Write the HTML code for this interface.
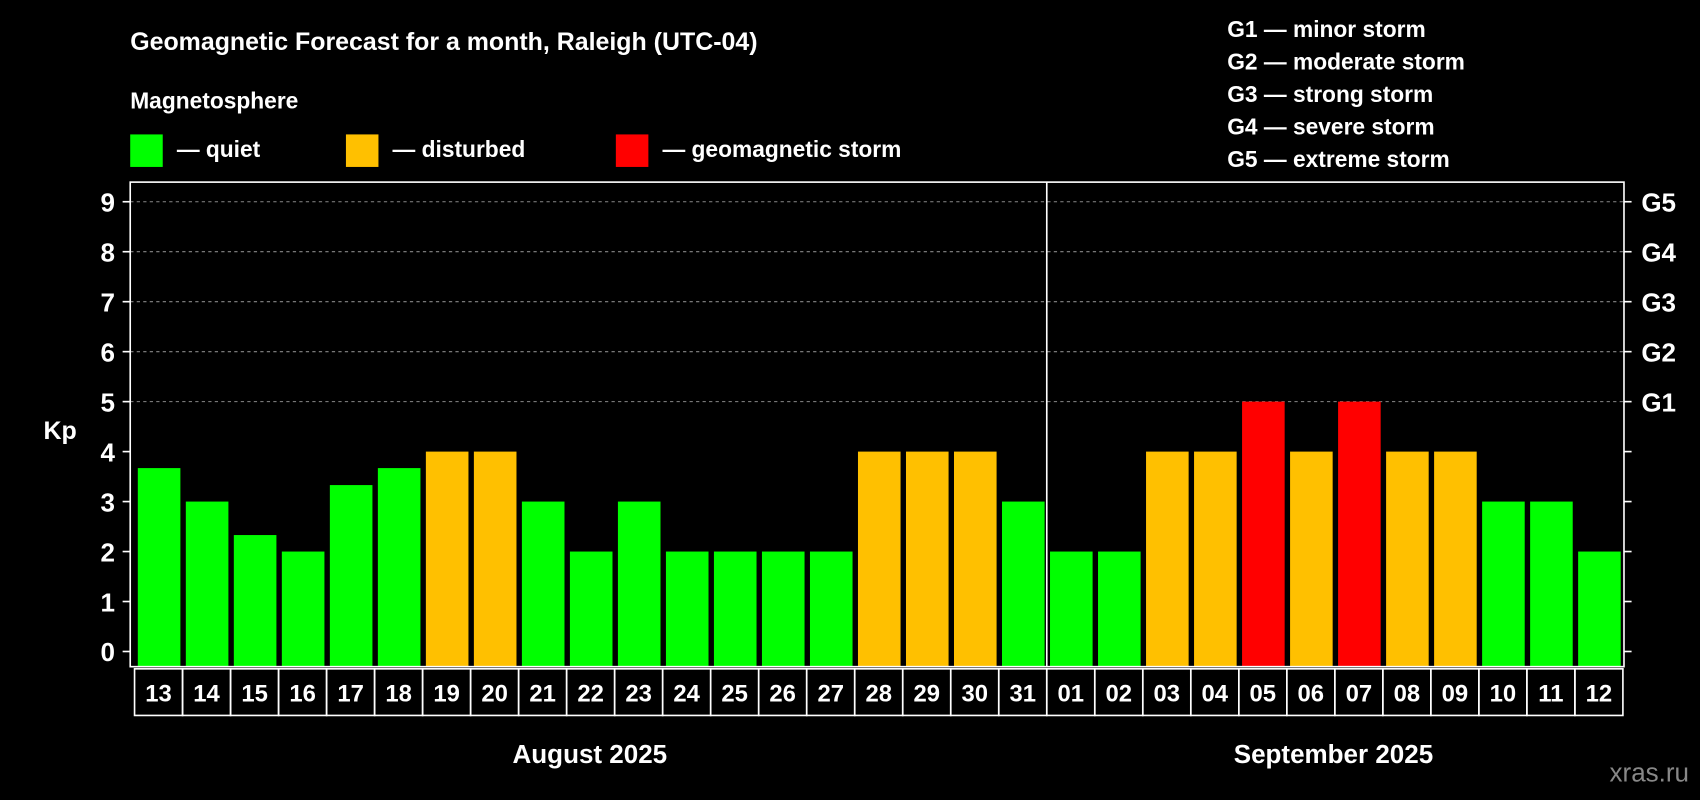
<!DOCTYPE html>
<html><head><meta charset="utf-8"><style>
html,body{margin:0;padding:0;background:#000;}
svg{display:block;font-family:"Liberation Sans",sans-serif;font-weight:bold;}
</style></head><body>
<svg id="chart" width="1700" height="800" viewBox="0 0 1568 738" xmlns="http://www.w3.org/2000/svg">
<rect x="0" y="0" width="1568" height="738" fill="#000"/>
<text x="120" y="46" fill="#fff" font-size="23">Geomagnetic Forecast for a month, Raleigh (UTC-04)</text>
<text x="120" y="100" fill="#fff" font-size="21">Magnetosphere</text>
<g><rect x="120" y="124" width="30" height="30" fill="#00ff00"/><text x="163" y="145" fill="#fff" font-size="21">— quiet</text></g>
<g><rect x="319" y="124" width="30" height="30" fill="#ffc000"/><text x="362" y="145" fill="#fff" font-size="21">— disturbed</text></g>
<g><rect x="568" y="124" width="30" height="30" fill="#ff0000"/><text x="611" y="145" fill="#fff" font-size="21">— geomagnetic storm</text></g>
<g fill="#fff" font-size="21">
<text x="1132" y="34">G1 — minor storm</text>
<text x="1132" y="64">G2 — moderate storm</text>
<text x="1132" y="94">G3 — strong storm</text>
<text x="1132" y="124">G4 — severe storm</text>
<text x="1132" y="154">G5 — extreme storm</text>
</g>
<text x="40" y="405" fill="#fff" font-size="23">Kp</text>
<g id="grid"></g><g id="bars"></g><g id="axes"></g>
<text x="544" y="704" fill="#fff" font-size="24" text-anchor="middle">August 2025</text>
<text x="1230" y="704" fill="#fff" font-size="24" text-anchor="middle">September 2025</text>
<text x="1558" y="721" fill="#888" font-size="24" text-anchor="end" font-weight="normal">xras.ru</text>
</svg>
<script>
const days = ["13","14","15","16","17","18","19","20","21","22","23","24","25","26","27","28","29","30","31","01","02","03","04","05","06","07","08","09","10","11","12"];
const kp = [3.67,3,2.33,2,3.33,3.67,4,4,3,2,3,2,2,2,2,4,4,4,3,2,2,4,4,5,4,5,4,4,3,3,2];
const yTicks = [0,1,2,3,4,5,6,7,8,9];
const gLabels = ["G1","G2","G3","G4","G5"];
const NS="http://www.w3.org/2000/svg";
const L=124,R=1497,T=168,B=615;
const cw=(R-L)/days.length;
function y(v){return 601-v*46.1;}
function x(i){return L+i*cw;}
function mk(tag,attrs,parent){const e=document.createElementNS(NS,tag);for(const k in attrs)e.setAttribute(k,attrs[k]);parent.appendChild(e);return e;}
const grid=document.getElementById('grid'),bars=document.getElementById('bars'),axes=document.getElementById('axes');
yTicks.forEach(v=>{
  if(v>=5){const gl=mk('line',{x1:120,x2:1498,y1:y(v),y2:y(v),stroke:'#888','stroke-dasharray':'3,3','stroke-width':1},grid);
  
  }
  mk('line',{x1:113,x2:120,y1:y(v),y2:y(v),stroke:'#fff','stroke-width':1.5},axes);
  mk('line',{x1:1498,x2:1505,y1:y(v),y2:y(v),stroke:'#fff','stroke-width':1.5},axes);
  const t=mk('text',{x:106,y:y(v)+9,fill:'#fff','font-size':24,'text-anchor':'end'},axes);
  t.textContent=v;
  
  
});
gLabels.forEach((g,i)=>{
  const t=mk('text',{x:1514,y:y(5+i)+9,fill:'#fff','font-size':24},axes);
  t.textContent=g;
  
  
});
kp.forEach((v,i)=>{
  const c=v>=5?'#ff0000':(v>=4?'#ffc000':'#00ff00');
  const r=mk('rect',{x:x(i)+3,y:y(v),width:cw-5,height:B-y(v),fill:c},bars);
  
  
  const cell=mk('rect',{x:x(i),y:617,width:cw,height:43,fill:'none',stroke:'#fff','stroke-width':1.5},axes);
  
  
  const t=mk('text',{x:x(i)+cw/2,y:647,fill:'#fff','font-size':22,'text-anchor':'middle'},axes);
  t.textContent=days[i];
  
  
});
const fr=mk('rect',{x:120,y:T,width:1378,height:B-T,fill:'none',stroke:'#fff','stroke-width':1.5},axes);


const sep=mk('line',{x1:x(19),x2:x(19),y1:T,y2:B,stroke:'#fff','stroke-width':1.5},axes);


</script>
</body></html>
